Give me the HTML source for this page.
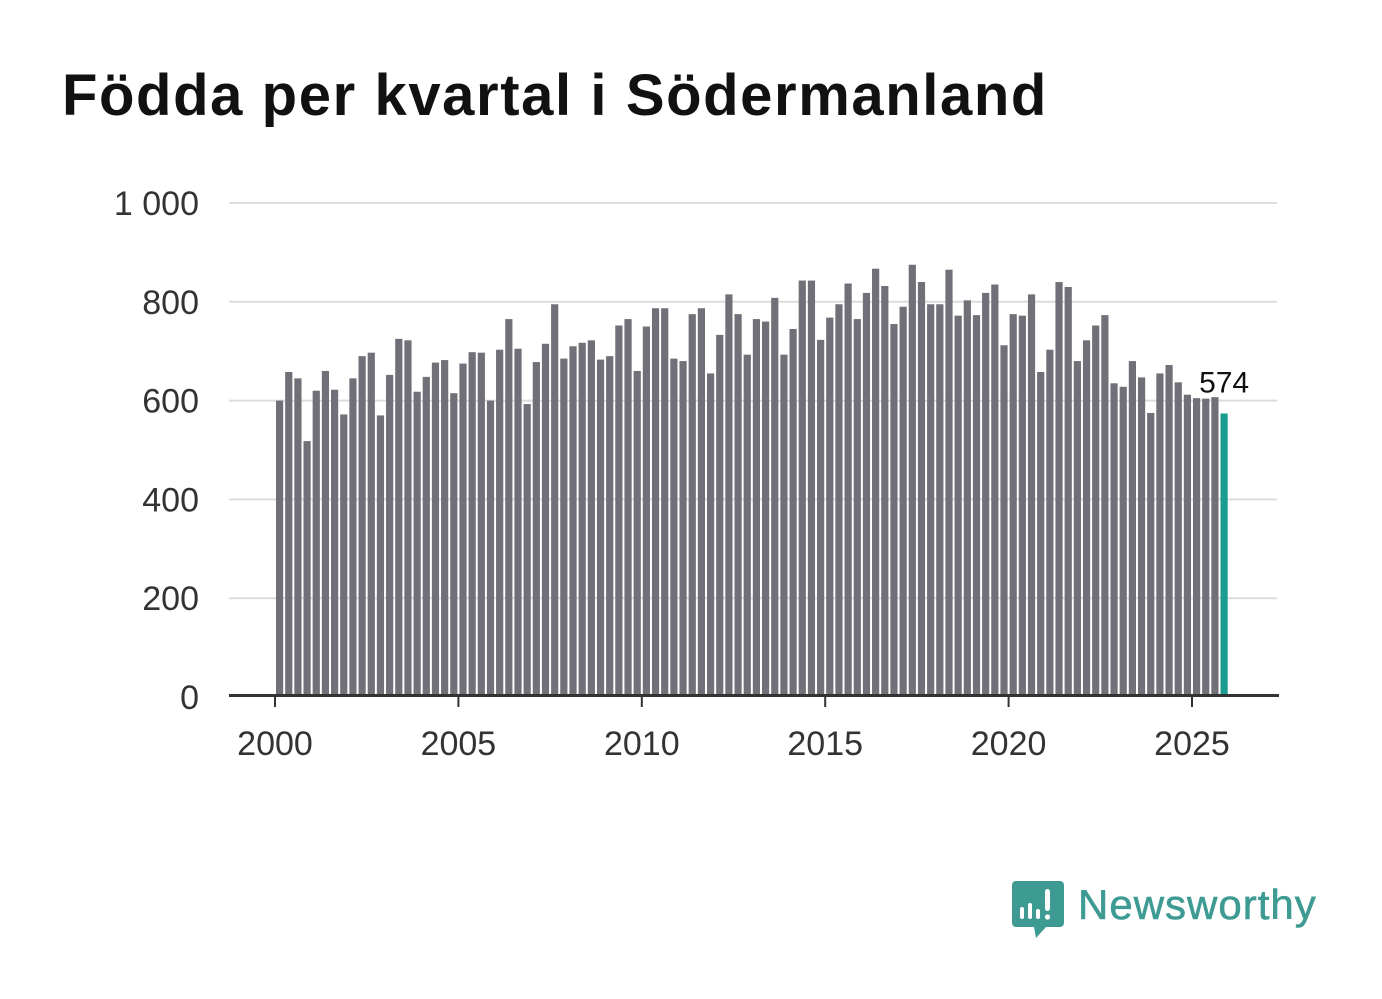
<!DOCTYPE html>
<html><head><meta charset="utf-8">
<style>
body{margin:0;background:#fff;width:1382px;height:999px;overflow:hidden;font-family:"Liberation Sans",sans-serif;}
h1{position:absolute;left:62px;top:62px;margin:0;font-size:58px;font-weight:bold;color:#111;letter-spacing:1.6px;}
svg{position:absolute;left:0;top:0;}
</style></head><body>
<h1>Födda per kvartal i Södermanland</h1>
<svg id="chart" width="1382" height="999"></svg>
<svg width="1382" height="999" style="pointer-events:none">
  <path d="M1016 881 h44 a4 4 0 0 1 4 4 v38 a4 4 0 0 1 -4 4 h-14 l-10 11 l-2 -11 h-18 a4 4 0 0 1 -4 -4 v-38 a4 4 0 0 1 4 -4z" fill="#3e9b93"/>
  <rect x="1020" y="907" width="4" height="12" rx="2" fill="#fff"/>
  <rect x="1028" y="903" width="4" height="16" rx="2" fill="#fff"/>
  <rect x="1036" y="909" width="4" height="10" rx="2" fill="#fff"/>
  <rect x="1045" y="889" width="5" height="22" rx="2.5" fill="#fff"/>
  <circle cx="1047.5" cy="917" r="2.6" fill="#fff"/>
  <text x="1078" y="919" font-size="42" font-family="Liberation Sans, sans-serif" fill="#3e9b93" letter-spacing="1" stroke="#3e9b93" stroke-width="0.6">Newsworthy</text>
</svg>
<script>
const years=[2000,2005,2010,2015,2020,2025];
const yTicks=[0,200,400,600,800,1000];
const yTickLabels=["0","200","400","600","800","1 000"];
const births=[600,658,645,518, 620,660,622,572, 645,690,697,570, 652,725,722,618,
 648,677,682,615, 675,698,697,600, 703,765,705,593, 678,715,795,685,
 710,717,722,683, 690,752,765,660, 750,787,787,685, 680,775,787,655,
 733,815,775,693, 765,760,808,693, 745,843,843,723, 768,795,837,765,
 818,867,832,755, 790,875,840,795, 795,865,772,803, 773,818,835,712,
 775,772,815,658, 703,840,830,680, 722,752,773,635, 628,680,647,575,
 655,672,637,612, 605,604,607,574];
const NS="http://www.w3.org/2000/svg";
const svg=document.getElementById('chart');
const y=v=>697-v*0.494;
const x=t=>275+(t-2000)*36.68;
function mk(tag,attrs){const e=document.createElementNS(NS,tag);for(const k in attrs)e.setAttribute(k,attrs[k]);svg.appendChild(e);return e;}
yTicks.forEach((v,i)=>{
  if(v>0){const l=mk('line',{x1:229,x2:1277,y1:y(v),y2:y(v),stroke:'#dcdcdc','stroke-width':2});
  
  }
  const t=mk('text',{x:199,y:y(v)+12,'text-anchor':'end','font-size':34,fill:'#333','font-family':'Liberation Sans, sans-serif'});
  t.textContent=yTickLabels[i];
  
  
});
births.forEach((v,i)=>{
  const last=i===births.length-1;
  const cx=x(2000+(i+0.5)/4);
  const r=mk('rect',{x:cx-3.6,y:y(v),width:7.2,height:697-y(v),fill:last?'#1a9c8f':'#707078'});
  
  
  if(last){const t=mk('text',{x:cx,y:y(v)-21,'text-anchor':'middle','font-size':30,fill:'#111','font-family':'Liberation Sans, sans-serif',stroke:'#fff','stroke-width':6,'paint-order':'stroke'});
  t.textContent=String(v);
  
  }
});
const ax=mk('line',{x1:229,x2:1279,y1:695.5,y2:695.5,stroke:'#333','stroke-width':3});


years.forEach(yr=>{
  const tk=mk('line',{x1:x(yr),x2:x(yr),y1:697,y2:707,stroke:'#333','stroke-width':2});
  
  
  const t=mk('text',{x:x(yr),y:755,'text-anchor':'middle','font-size':34,fill:'#333','font-family':'Liberation Sans, sans-serif'});
  t.textContent=String(yr);
  
  
});
</script>
</body></html>
